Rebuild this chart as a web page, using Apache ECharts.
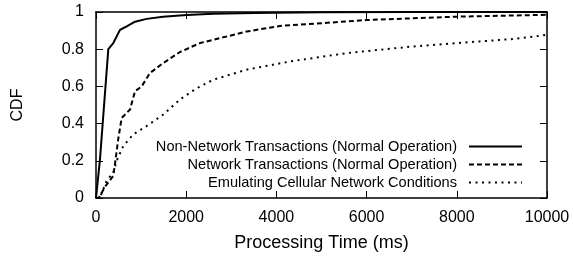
<!DOCTYPE html>
<html>
<head>
<meta charset="utf-8">
<script src="https://cdn.jsdelivr.net/npm/echarts@6/dist/echarts.min.js"></script>
<style>
  html, body { margin: 0; padding: 0; background: #fff; }
  #chart { width: 574px; height: 257px; }
</style>
</head>
<body>
<div id="chart"></div>
<script>
// series names (legend)
const seriesNames = [
  "Non-Network Transactions (Normal Operation)",
  "Network Transactions (Normal Operation)",
  "Emulating Cellular Network Conditions",
];
// [processing time (ms), CDF]
const nonNetwork = [
  [0, 0], [89, 0.21], [273, 0.8], [384, 0.833], [532, 0.904], [643, 0.918],
  [865, 0.948], [1124, 0.963], [1486, 0.975], [2010, 0.984], [2600, 0.99],
  [3500, 0.995], [5000, 0.998], [7000, 1], [10000, 1],
];
const network = [
  [0, 0], [60, 0], [200, 0.06], [384, 0.12], [430, 0.2], [495, 0.32],
  [569, 0.43], [754, 0.476], [865, 0.574], [1013, 0.6], [1197, 0.672],
  [1493, 0.726], [1863, 0.785], [2306, 0.833], [3341, 0.895], [4080, 0.925],
  [5188, 0.943], [6001, 0.957], [7997, 0.975], [10000, 0.985],
];
const cellular = [
  [0, 0], [89, 0.004], [237, 0.093], [384, 0.137], [458, 0.2], [606, 0.28],
  [828, 0.342], [1124, 0.387], [1493, 0.449], [1863, 0.53], [2232, 0.59],
  [2601, 0.636], [3341, 0.69], [4302, 0.734], [5558, 0.779], [7035, 0.815],
  [8514, 0.842], [9254, 0.855], [10000, 0.877],
];
const seriesData = [nonNetwork, network, cellular];
const lineTypes = ["solid", [5, 3], [2, 4.5]];

const FONT = "Liberation Sans";
const chart = echarts.init(document.getElementById("chart"), null, { renderer: "canvas" });

const axisCommon = {
  type: "value",
  axisLine: { show: true, onZero: false, lineStyle: { color: "#000", width: 1.5 } },
  axisTick: { show: true, inside: true, length: 7, lineStyle: { color: "#000", width: 1 } },
  splitLine: { show: false },
};

chart.setOption({
  animation: false,
  textStyle: { fontFamily: FONT, color: "#000" },
  grid: { left: 96, right: 27, top: 12, bottom: 58 },
  xAxis: [
    Object.assign({}, axisCommon, {
      min: 0, max: 10000, interval: 2000,
      position: "bottom",
      name: "Processing Time (ms)",
      nameLocation: "middle",
      nameGap: 36,
      nameTextStyle: { fontSize: 18, color: "#000", fontFamily: FONT },
      axisLabel: { fontSize: 16, color: "#000", margin: 12, fontFamily: FONT,
        formatter: (v) => String(v) },
    }),
    Object.assign({}, axisCommon, {
      min: 0, max: 10000, interval: 2000,
      position: "top",
      axisLabel: { show: false },
    }),
  ],
  yAxis: [
    Object.assign({}, axisCommon, {
      min: 0, max: 1, interval: 0.2,
      position: "left",
      name: "CDF",
      nameLocation: "middle",
      nameGap: 70,
      nameTextStyle: { fontSize: 16, color: "#000", fontFamily: FONT },
      axisLabel: { fontSize: 16, color: "#000", margin: 12, fontFamily: FONT },
    }),
    Object.assign({}, axisCommon, {
      min: 0, max: 1, interval: 0.2,
      position: "right",
      axisLabel: { show: false },
    }),
  ],
  legend: seriesNames.map((name, i) => ({
    data: [name],
    orient: "horizontal",
    align: "right",
    left: "auto",
    right: 46,
    top: 134 + i * 18,
    bottom: "auto",
    itemWidth: 53,
    itemHeight: 14,
    selectedMode: false,
    itemStyle: { opacity: 0 },
    textStyle: { fontSize: 14.6, color: "#000", fontFamily: FONT, padding: [0, 7, 0, 0] },
  })),
  series: seriesNames.map((name, i) => ({
    name: name,
    type: "line",
    data: seriesData[i],
    showSymbol: false,
    symbol: "none",
    lineStyle: { color: "#000", width: 2, type: lineTypes[i] },
    itemStyle: { color: "#000" },
  })),
});
</script>
</body>
</html>
